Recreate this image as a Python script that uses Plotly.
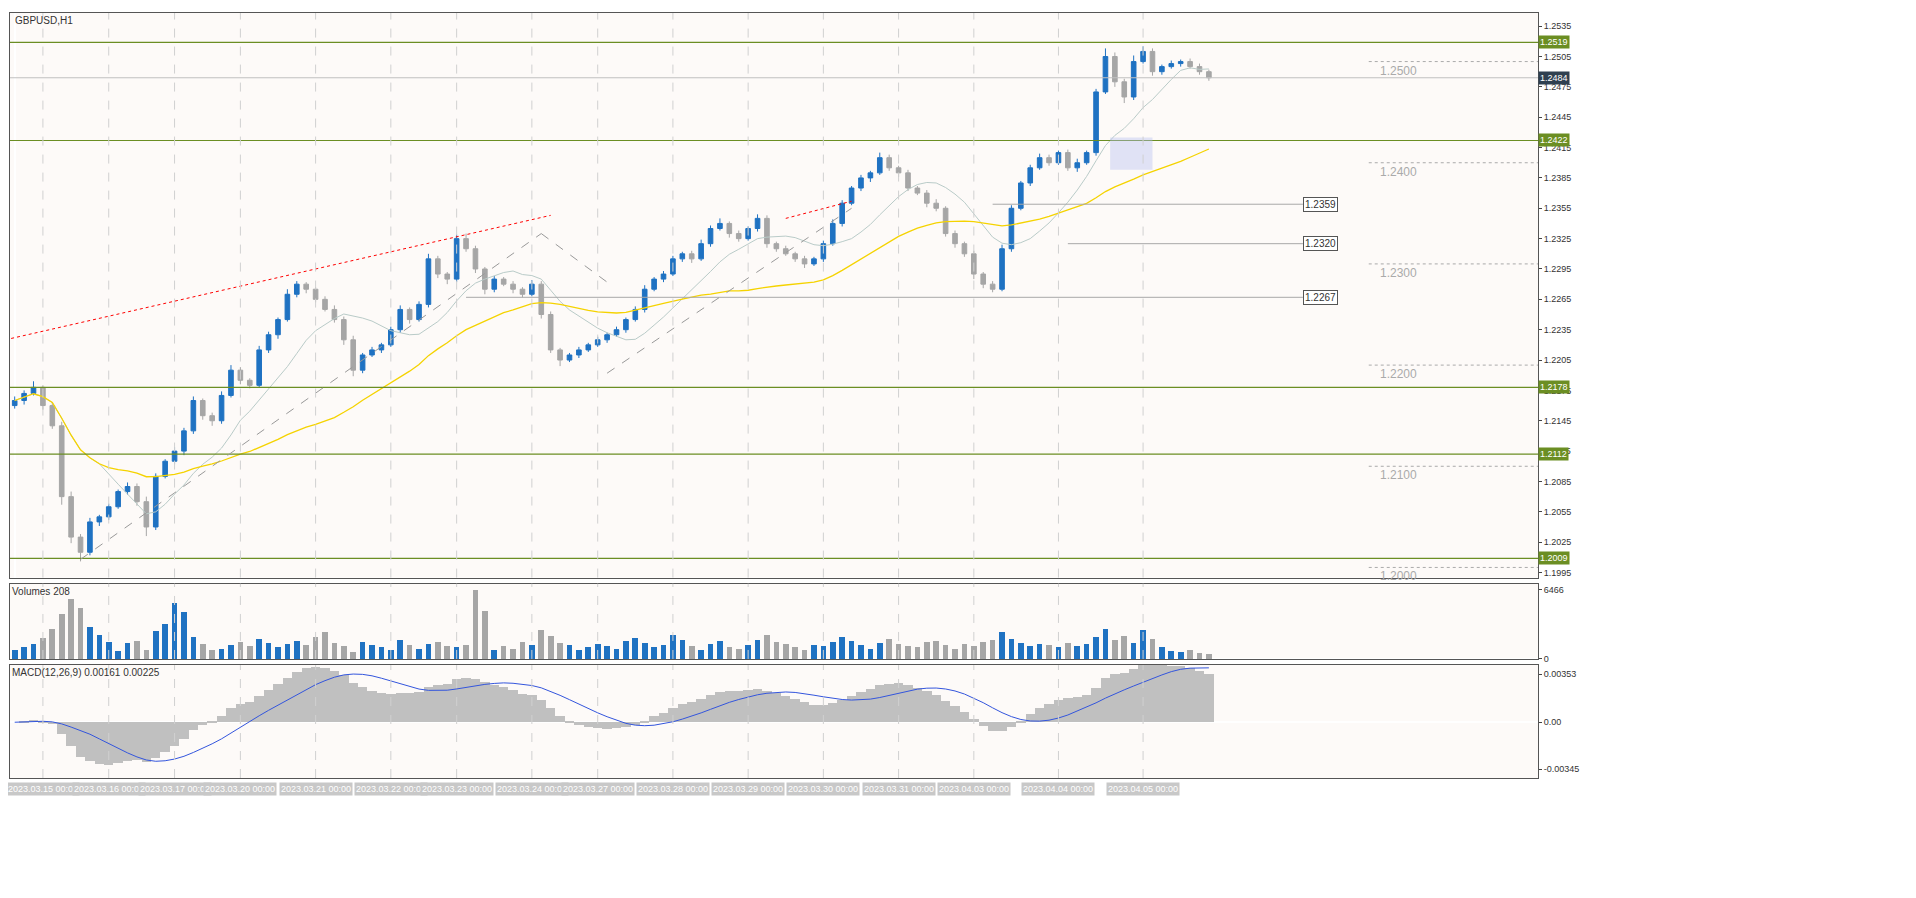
import plotly.graph_objects as go
from plotly.subplots import make_subplots
import numpy as np

# hourly closes, GBPUSD H1
closes = [1.2165,1.2172,1.2178,1.2160,1.2140,1.2070,1.2030,1.2015,1.2045,1.2050,
          1.2060,1.2075,1.2080,1.2065,1.2040,1.2090,1.2105,1.2115,1.2135,1.2165,
          1.2150,1.2145,1.2170,1.2195,1.2185,1.2180,1.2215,1.2230,1.2245,1.2270,
          1.2280,1.2275,1.2265,1.2255,1.2245,1.2225,1.2195,1.2210,1.2215,1.2220,
          1.2235,1.2255,1.2245,1.2260,1.2305,1.2290,1.2285,1.2325,1.2315,1.2295,
          1.2275,1.2285,1.2280,1.2275,1.2270,1.2280,1.2250,1.2215,1.2205,1.2210,
          1.2215,1.2220,1.2225,1.2230,1.2235,1.2245,1.2255,1.2275,1.2285,1.2290,
          1.2305,1.2310,1.2305,1.2320,1.2335,1.2340,1.2330,1.2325,1.2335,1.2345,
          1.2320,1.2315,1.2310,1.2305,1.2300,1.2305,1.2320,1.2340,1.2360,1.2375,
          1.2385,1.2390,1.2405,1.2395,1.2390,1.2375,1.2370,1.2360,1.2355,1.2330,
          1.2320,1.2310,1.2290,1.2280,1.2275,1.2315,1.2355,1.2380,1.2395,1.2405,
          1.2400,1.2410,1.2395,1.2400,1.2410,1.2470,1.2505,1.2480,1.2465,1.2500,
          1.2510,1.2490,1.2495,1.2498,1.2500,1.2495,1.2490,1.2484]
first_open = 1.2160
upper_wick = [4,3,6,2,3,4,5,3,4,2, 3,2,4,3,5,3,2,4,3,4, 2,3,4,5,3,2,4,3,2,5,
              3,2,2,3,4,3,4,2,3,2, 3,4,2,3,5,3,2,4,5,3, 2,3,2,3,2,4,3,3,2,2,
              3,2,3,2,3,2,3,4,2,3, 3,2,3,4,3,5,2,3,2,4, 3,2,3,2,3,2,3,4,3,2,
              3,2,5,3,2,3,2,3,4,2, 3,2,3,2,3,4,3,2,3,4, 3,2,3,4,2,3,8,4,3,6,
              5,3,2,3,2,3,3,2]
lower_wick = [3,4,2,4,3,8,6,9,3,4, 3,2,3,4,9,3,2,3,4,3, 4,5,3,2,4,3,2,3,4,2,
              3,4,3,2,3,5,6,3,2,3, 2,3,4,2,3,4,5,3,3,4, 5,3,2,4,3,2,4,3,6,2,
              3,2,2,3,2,3,2,3,2,3, 2,3,4,2,3,2,4,3,2,3, 4,3,2,3,4,2,3,2,3,2,
              3,4,2,3,4,3,2,4,3,3, 4,3,5,4,3,2,3,2,3,2, 3,2,3,4,2,3,2,5,6,3,
              2,4,3,2,3,2,3,3]
volumes = [900,1100,1400,2000,2800,4200,5600,4800,3000,2300, 1600,800,1500,1700,900,2600,3300,5200,4400,2100,
           1400,900,1000,1300,1600,1200,1900,1500,1100,1400, 1700,1300,2100,2500,1500,1200,700,1600,1300,1100,
           900,1800,1300,1000,1400,1600,1200,1100,1300,6466, 4500,900,1200,1000,1600,1300,2700,2200,1500,1300,
           900,1100,1400,1200,1000,1700,2000,1500,1100,1300, 2300,1800,1200,900,1400,1700,1100,1000,1300,1800,
           2300,1600,1400,1100,900,1300,1200,1600,2100,1700, 1300,1000,1500,1900,1400,1200,1100,1600,1700,1300,
           1000,1400,1200,1600,1800,2500,1900,1500,1200,1400, 1300,1100,1500,1200,1400,2100,2800,1800,2200,1500,
           2700,1900,1100,800,700,900,600,500]

h_levels = [1.2519, 1.2422, 1.2178, 1.2112, 1.2009]
round_levels = [1.2500, 1.2400, 1.2300, 1.2200, 1.2100, 1.2000]
marked_levels = [1.2359, 1.2320, 1.2267]
marked_from = [104, 112, 48]
last_price = 1.2484
date_labels = ["2023.03.15 00:00", "2023.03.16 00:00", "2023.03.17 00:00", "2023.03.20 00:00",
               "2023.03.21 00:00", "2023.03.22 00:00", "2023.03.23 00:00", "2023.03.24 00:00",
               "2023.03.27 00:00", "2023.03.28 00:00", "2023.03.29 00:00", "2023.03.30 00:00",
               "2023.03.31 00:00", "2023.04.03 00:00", "2023.04.04 00:00", "2023.04.05 00:00"]
date_bars = [3, 10, 17, 24, 32, 40, 47, 55, 62, 70, 78, 86, 94, 102, 111, 120]

n = len(closes)
x = np.arange(n)
c = np.array(closes)
o = np.concatenate([[first_open], c[:-1]])
hi = np.maximum(o, c) + np.array(upper_wick) * 0.0001
lo = np.minimum(o, c) - np.array(lower_wick) * 0.0001

def sma(a, p):
    return np.array([a[max(0, i - p + 1):i + 1].mean() for i in range(len(a))])

def ema(a, p):
    out = np.empty(len(a)); out[0] = a[0]; k = 2 / (p + 1)
    for i in range(1, len(a)):
        out[i] = a[i] * k + out[i - 1] * (1 - k)
    return out

macd = ema(c, 12) - ema(c, 26)
signal = sma(macd, 9)

BLUE = "#1f72c2"
GRAY = "#a6a6a6"
BG = "#fdfaf8"

fig = make_subplots(rows=3, cols=1, shared_xaxes=True, vertical_spacing=0.008,
                    row_heights=[0.75, 0.1, 0.15])
fig.add_trace(go.Candlestick(x=x, open=o, high=hi, low=lo, close=c,
                             increasing=dict(fillcolor=BLUE, line=dict(color=BLUE, width=1)),
                             decreasing=dict(fillcolor=GRAY, line=dict(color=GRAY, width=1)),
                             whiskerwidth=0, showlegend=False), row=1, col=1)
fig.add_trace(go.Scatter(x=x, y=sma(c, 10), mode="lines", line=dict(color="#b9cbc8", width=1), showlegend=False), row=1, col=1)
fig.add_trace(go.Scatter(x=x, y=sma(c, 30), mode="lines", line=dict(color="#f5d300", width=1.3), showlegend=False), row=1, col=1)

vol_colors = [BLUE if cc >= oo else GRAY for cc, oo in zip(c, o)]
fig.add_trace(go.Bar(x=x, y=volumes, marker_color=vol_colors, marker_line_width=0, width=0.6, showlegend=False), row=2, col=1)
fig.add_trace(go.Bar(x=x, y=macd, marker_color="#c0c0c0", marker_line_width=0, width=1.0, showlegend=False), row=3, col=1)
fig.add_trace(go.Scatter(x=x, y=signal, mode="lines", line=dict(color="#3355dd", width=1), showlegend=False), row=3, col=1)

xmax = 162
for lvl in h_levels:
    fig.add_shape(type="line", x0=-1, x1=xmax, y0=lvl, y1=lvl, line=dict(color="#6b8e23", width=1.2), row=1, col=1)
    fig.add_annotation(x=1, xref="x domain", xanchor="left", y=lvl, yref="y", text=str(lvl), showarrow=False,
                       bgcolor="#6b8e23", font=dict(color="white", size=9, family="Liberation Sans"), borderpad=1)
fig.add_shape(type="line", x0=-1, x1=xmax, y0=last_price, y1=last_price, line=dict(color="#c0c0c0", width=1), row=1, col=1)
fig.add_annotation(x=1, xref="x domain", xanchor="left", y=last_price, yref="y", text=str(last_price), showarrow=False,
                   bgcolor="#2f4050", font=dict(color="white", size=9, family="Liberation Sans"), borderpad=1)
for lvl in round_levels:
    fig.add_shape(type="line", x0=144, x1=xmax, y0=lvl, y1=lvl, line=dict(color="#aaaaaa", width=1, dash="dot"), row=1, col=1)
    fig.add_annotation(x=145, y=lvl, text=f"{lvl:.4f}", showarrow=False, yanchor="top", xanchor="left",
                       font=dict(color="#aaaaaa", size=12, family="Liberation Sans"), row=1, col=1)
for lvl, x0 in zip(marked_levels, marked_from):
    fig.add_shape(type="line", x0=x0, x1=137, y0=lvl, y1=lvl, line=dict(color="#a8a8a8", width=1), row=1, col=1)
    fig.add_annotation(x=137, y=lvl, text=f"{lvl:.4f}", showarrow=False, xanchor="left",
                       bordercolor="#555", borderwidth=1, borderpad=1, bgcolor="white",
                       font=dict(color="#333", size=10, family="Liberation Sans"), row=1, col=1)

# analysis lines
fig.add_shape(type="line", x0=-1, x1=57, y0=1.2225, y1=1.2348, line=dict(color="red", width=1, dash="dot"), row=1, col=1)
fig.add_shape(type="line", x0=82, x1=89, y0=1.2345, y1=1.2362, line=dict(color="red", width=1, dash="dot"), row=1, col=1)
fig.add_shape(type="line", x0=7, x1=56, y0=1.2008, y1=1.2330, line=dict(color="#999", width=1, dash="dash"), row=1, col=1)
fig.add_shape(type="line", x0=56, x1=63, y0=1.2330, y1=1.2282, line=dict(color="#999", width=1, dash="dash"), row=1, col=1)
fig.add_shape(type="line", x0=63, x1=89, y0=1.2192, y1=1.2355, line=dict(color="#999", width=1, dash="dash"), row=1, col=1)
fig.add_shape(type="rect", x0=116.5, x1=121, y0=1.2393, y1=1.2425, fillcolor="rgba(180,190,240,0.4)", line_width=0, row=1, col=1)

for xb, lab in zip(date_bars, date_labels):
    fig.add_annotation(x=xb, y=-0.005, xref="x", yref="paper", yanchor="top", text=lab, showarrow=False,
                       bgcolor="#c8c8c8", font=dict(color="white", size=9, family="Liberation Sans"))
for xb in date_bars:
    for r in (1, 2, 3):
        fig.add_vline(x=xb, line=dict(color="#d0d0d0", width=1, dash="dash"), row=r, col=1)

fig.add_annotation(x=0.002, y=1, xref="paper", yref="paper", text="GBPUSD,H1", showarrow=False, xanchor="left", yanchor="top",
                   font=dict(size=10, color="#333", family="Liberation Sans"))
fig.add_annotation(x=0, y=1, xref="x domain", yref="y2 domain", text="Volumes 208", showarrow=False, xanchor="left", yanchor="top",
                   font=dict(size=10, color="#333", family="Liberation Sans"))
fig.add_annotation(x=0, y=1, xref="x domain", yref="y3 domain", text="MACD(12,26,9) 0.00161 0.00225", showarrow=False,
                   xanchor="left", yanchor="top", font=dict(size=10, color="#333", family="Liberation Sans"))

axfont = dict(size=9, color="#333", family="Liberation Sans")
fig.update_xaxes(range=[-0.5, xmax], showgrid=False, showticklabels=False, rangeslider_visible=False,
                 showline=True, linecolor="#555", mirror=True)
fig.update_yaxes(side="right", showgrid=False, tickfont=axfont, showline=True, linecolor="#555", mirror=True, ticks="outside", ticklen=3)
fig.update_yaxes(range=[1.1990, 1.2548], tick0=1.1995, dtick=0.003, tickformat=".4f", row=1, col=1)
fig.update_yaxes(range=[0, 7000], tickvals=[0, 6466], row=2, col=1)
fig.update_yaxes(range=[-0.0041, 0.0042], tickvals=[-0.00345, 0, 0.00353], ticktext=["-0.00345", "0.00", "0.00353"], row=3, col=1)

fig.update_layout(width=1916, height=898, paper_bgcolor="white", plot_bgcolor=BG, bargap=0,
                  margin=dict(l=2, r=386, t=5, b=128))
fig.write_html("out.html")
